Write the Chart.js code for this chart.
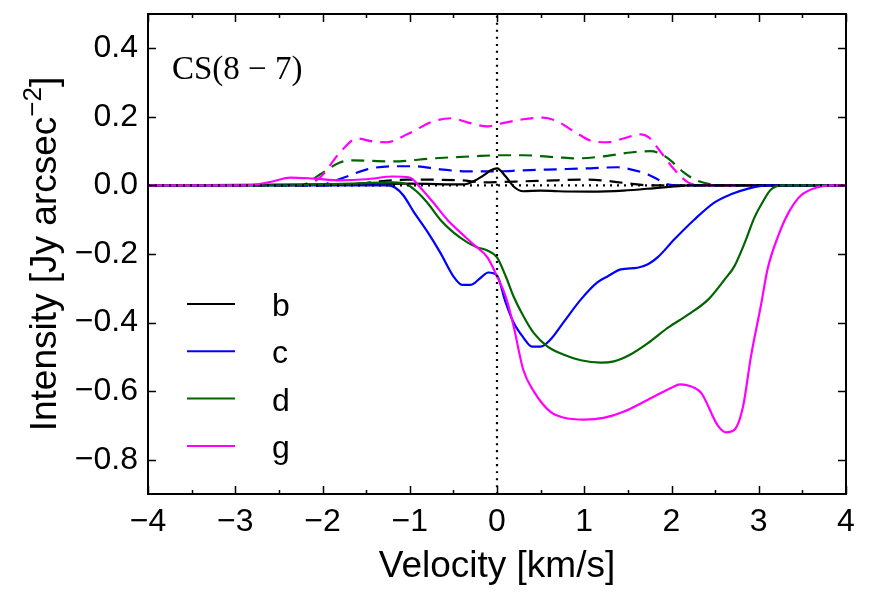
<!DOCTYPE html>
<html>
<head>
<meta charset="utf-8">
<script src="https://cdn.jsdelivr.net/npm/chart.js@4.4.1/dist/chart.umd.min.js"></script>
<style>
  body { margin: 0; background: #fff; }
  canvas { display: block; }
</style>
</head>
<body>
<canvas id="chart" width="870" height="599"></canvas>
<script>
// tick values
const xTicks = [-4, -3, -2, -1, 0, 1, 2, 3, 4];
const xMinorTicks = [-3.5, -2.5, -1.5, -0.5, 0.5, 1.5, 2.5, 3.5];
const yTicks = [-0.8, -0.6, -0.4, -0.2, 0.0, 0.2, 0.4];

// b (black)
const velB = [-4, -2.0, -1.0, -0.38, -0.27, -0.15, -0.07, 0, 0.1, 0.19, 0.3, 0.5, 0.7, 1.07, 1.45, 1.84, 2.03, 2.2, 4];
const intB = [0, 0.003, 0.005, 0.003, 0.012, 0.03, 0.044, 0.05, 0.026, -0.003, -0.017, -0.015, -0.017, -0.018, -0.015, -0.007, -0.003, 0, 0];
const velBd = [-4, -2.0, -1.6, -1.34, -1.03, -0.42, -0.15, 0.04, 0.3, 0.69, 0.96, 1.19, 1.5, 1.76, 2.0, 4];
const intBd = [0, 0, 0.005, 0.012, 0.017, 0.015, 0.009, 0.01, 0.012, 0.015, 0.017, 0.015, 0.006, 0, 0, 0];

// c (blue)
const velC = [-4, -2.5, -1.26, -1.17, -1.07, -0.96, -0.8, -0.65, -0.5, -0.4, -0.3, -0.19, -0.1, 0, 0.1, 0.19, 0.3, 0.4, 0.5, 0.61, 0.76, 0.96, 1.15, 1.27, 1.42, 1.61, 1.73, 1.84, 2.03, 2.26, 2.49, 2.68, 2.87, 3.1, 4];
const intC = [0, 0, 0, -0.006, -0.03, -0.075, -0.134, -0.196, -0.265, -0.29, -0.29, -0.27, -0.254, -0.263, -0.342, -0.40, -0.443, -0.47, -0.47, -0.45, -0.40, -0.333, -0.283, -0.265, -0.245, -0.24, -0.23, -0.21, -0.158, -0.1, -0.05, -0.026, -0.01, 0, 0];
const velCd = [-4, -2.03, -1.88, -1.72, -1.49, -1.19, -0.96, -0.65, -0.34, -0.04, 0.3, 0.69, 1.07, 1.38, 1.53, 1.73, 1.84, 1.96, 2.1, 4];
const intCd = [0, 0, 0.012, 0.026, 0.047, 0.056, 0.056, 0.047, 0.041, 0.041, 0.044, 0.047, 0.05, 0.053, 0.047, 0.032, 0.018, 0.003, 0, 0];

// d (green)
const velD = [-4, -2.5, -1.6, -1.19, -1.03, -0.91, -0.8, -0.65, -0.5, -0.34, -0.23, -0.11, 0, 0.1, 0.19, 0.3, 0.42, 0.58, 0.76, 0.96, 1.19, 1.34, 1.53, 1.73, 1.96, 2.19, 2.42, 2.61, 2.72, 2.84, 2.95, 3.05, 3.14, 3.27, 4];
const intD = [0, 0, 0.006, 0.009, 0.003, -0.02, -0.05, -0.1, -0.137, -0.166, -0.18, -0.19, -0.21, -0.265, -0.324, -0.38, -0.43, -0.47, -0.493, -0.51, -0.517, -0.513, -0.493, -0.46, -0.415, -0.377, -0.333, -0.274, -0.236, -0.167, -0.094, -0.046, -0.012, 0, 0];
const velDd = [-4, -2.25, -2.03, -1.8, -1.65, -1.19, -0.73, -0.27, 0.04, 0.3, 0.69, 0.92, 1.22, 1.53, 1.76, 1.84, 1.96, 2.14, 2.26, 2.45, 2.6, 4];
const intDd = [0, 0, 0.032, 0.067, 0.073, 0.07, 0.079, 0.085, 0.088, 0.088, 0.082, 0.079, 0.085, 0.096, 0.1, 0.096, 0.079, 0.038, 0.018, 0.003, 0, 0];

// g (magenta)
const velG = [-4, -2.9, -2.6, -2.37, -2.1, -1.8, -1.5, -1.19, -1.0, -0.88, -0.73, -0.57, -0.42, -0.27, -0.11, 0, 0.1, 0.19, 0.3, 0.42, 0.61, 0.76, 1.0, 1.22, 1.45, 1.73, 2.0, 2.1, 2.22, 2.34, 2.53, 2.62, 2.72, 2.82, 2.91, 3.03, 3.1, 3.22, 3.34, 3.48, 3.68, 3.83, 4];
const intG = [0, 0, 0.01, 0.023, 0.02, 0.015, 0.018, 0.026, 0.023, -0.006, -0.05, -0.1, -0.137, -0.172, -0.21, -0.265, -0.324, -0.41, -0.537, -0.60, -0.66, -0.677, -0.683, -0.678, -0.66, -0.625, -0.59, -0.58, -0.586, -0.605, -0.70, -0.72, -0.713, -0.645, -0.50, -0.343, -0.245, -0.149, -0.08, -0.03, -0.005, 0, 0];
const velGd = [-4, -2.25, -2.03, -1.8, -1.6, -1.42, -1.26, -1.03, -0.73, -0.53, -0.34, -0.11, 0, 0.3, 0.53, 0.69, 0.88, 1.11, 1.27, 1.45, 1.65, 1.74, 1.88, 2.03, 2.19, 2.34, 4];
const intGd = [0, 0, 0.023, 0.096, 0.137, 0.128, 0.126, 0.149, 0.187, 0.196, 0.184, 0.172, 0.178, 0.193, 0.198, 0.187, 0.158, 0.128, 0.126, 0.137, 0.149, 0.14, 0.096, 0.047, 0.009, 0, 0];

// reference lines
const zeroVel = [-4, 4];
const zeroInt = [0, 0];
const centerVel = [0, 0];
const centerInt = [-0.9, 0.5];

const legendLabels = ['b', 'c', 'd', 'g'];
const legendColors = ['#000000', '#0000ff', '#006400', '#ff00ff'];

const SANS = '"Liberation Sans", Arial, sans-serif';
const DASH = [13, 8];
const DOT = [2, 5];

function pts(xs, ys) {
    return xs.map((x, i) => ({ x: x, y: ys[i] }));
}

function line(xs, ys, color, dash) {
    return {
        data: pts(xs, ys),
        borderColor: color,
        borderWidth: 2.2,
        borderDash: dash || [],
        showLine: true,
        pointRadius: 0,
        cubicInterpolationMode: 'monotone',
        fill: false
    };
}

function fmt(v, digits) {
    const s = Math.abs(v).toFixed(digits);
    return (v < 0 ? '\u2212' : '') + s;
}

// inward ticks, frame, titles, legend and panel label
const decor = {
    id: 'decor',
    afterDraw(chart) {
        const ctx = chart.ctx;
        const a = chart.chartArea;
        const xs = chart.scales.x;
        const ys = chart.scales.y;
        ctx.save();
        ctx.strokeStyle = '#000';
        ctx.lineWidth = 1.5;
        ctx.beginPath();
        xTicks.forEach(v => {
            const px = Math.round(xs.getPixelForValue(v)) + 0.5;
            ctx.moveTo(px, a.bottom); ctx.lineTo(px, a.bottom - 8);
            ctx.moveTo(px, a.top); ctx.lineTo(px, a.top + 8);
        });
        xMinorTicks.forEach(v => {
            const px = Math.round(xs.getPixelForValue(v)) + 0.5;
            ctx.moveTo(px, a.bottom); ctx.lineTo(px, a.bottom - 4);
            ctx.moveTo(px, a.top); ctx.lineTo(px, a.top + 4);
        });
        yTicks.forEach(v => {
            const py = Math.round(ys.getPixelForValue(v)) + 0.5;
            ctx.moveTo(a.left, py); ctx.lineTo(a.left + 8, py);
            ctx.moveTo(a.right, py); ctx.lineTo(a.right - 8, py);
        });
        ctx.stroke();
        ctx.lineWidth = 2;
        ctx.strokeRect(a.left, a.top, a.right - a.left, a.bottom - a.top);

        ctx.fillStyle = '#000';
        // x title
        ctx.font = '37px ' + SANS;
        ctx.textAlign = 'center';
        ctx.textBaseline = 'alphabetic';
        ctx.fillText('Velocity [km/s]', (a.left + a.right) / 2, 577);

        // y title with superscript
        ctx.save();
        ctx.translate(56, (a.top + a.bottom) / 2);
        ctx.rotate(-Math.PI / 2);
        ctx.textAlign = 'left';
        const main = 'Intensity [Jy arcsec';
        const sup = '\u22122';
        const end = ']';
        ctx.font = '37px ' + SANS;
        const wMain = ctx.measureText(main).width;
        const wEnd = ctx.measureText(end).width;
        ctx.font = '26px ' + SANS;
        const wSup = ctx.measureText(sup).width;
        let x0 = -(wMain + wSup + wEnd) / 2;
        ctx.font = '37px ' + SANS;
        ctx.fillText(main, x0, 0);
        ctx.font = '26px ' + SANS;
        ctx.fillText(sup, x0 + wMain, -15);
        ctx.font = '37px ' + SANS;
        ctx.fillText(end, x0 + wMain + wSup, 0);
        ctx.restore();

        // panel label
        ctx.font = '33px "Liberation Serif", serif';
        ctx.textAlign = 'left';
        ctx.fillText('CS(8 \u2212 7)', 172, 79);

        // legend
        ctx.font = '32px ' + SANS;
        legendLabels.forEach((lab, i) => {
            const y = 304 + i * 47.3;
            ctx.strokeStyle = legendColors[i];
            ctx.lineWidth = 2;
            ctx.beginPath();
            ctx.moveTo(187, y); ctx.lineTo(235, y);
            ctx.stroke();
            ctx.fillText(lab, 272, y + 12);
        });
        ctx.restore();
    }
};

new Chart(document.getElementById('chart'), {
    type: 'scatter',
    data: {
        datasets: [
            line(centerVel, centerInt, '#000000', DOT),
            line(zeroVel, zeroInt, '#000000', DOT),
            line(velG, intG, '#ff00ff'),
            line(velD, intD, '#006400'),
            line(velC, intC, '#0000ff'),
            line(velB, intB, '#000000'),
            line(velGd, intGd, '#ff00ff', DASH),
            line(velDd, intDd, '#006400', DASH),
            line(velCd, intCd, '#0000ff', DASH),
            line(velBd, intBd, '#000000', DASH)
        ]
    },
    options: {
        responsive: false,
        animation: false,
        layout: { padding: { top: 14, right: 24, left: 0, bottom: 0 } },
        plugins: {
            legend: { display: false },
            tooltip: { enabled: false }
        },
        scales: {
            x: {
                type: 'linear',
                min: -4,
                max: 4,
                afterBuildTicks: s => { s.ticks = xTicks.map(v => ({ value: v })); },
                afterFit: s => { s.height = 105; s.paddingLeft = 0; s.paddingRight = 0; },
                grid: { display: false, drawTicks: false },
                border: { display: false },
                ticks: {
                    padding: 9,
                    maxRotation: 0,
                    autoSkip: false,
                    color: '#000',
                    font: { family: SANS, size: 32 },
                    callback: v => fmt(v, 0)
                }
            },
            y: {
                type: 'linear',
                min: -0.9,
                max: 0.5,
                afterBuildTicks: s => { s.ticks = yTicks.map(v => ({ value: v })); },
                afterFit: s => { s.width = 148; s.paddingTop = 0; s.paddingBottom = 0; },
                grid: { display: false, drawTicks: false },
                border: { display: false },
                ticks: {
                    padding: 10,
                    autoSkip: false,
                    color: '#000',
                    font: { family: SANS, size: 32 },
                    callback: v => fmt(v, 1)
                }
            }
        }
    },
    plugins: [decor]
});
</script>
</body>
</html>
